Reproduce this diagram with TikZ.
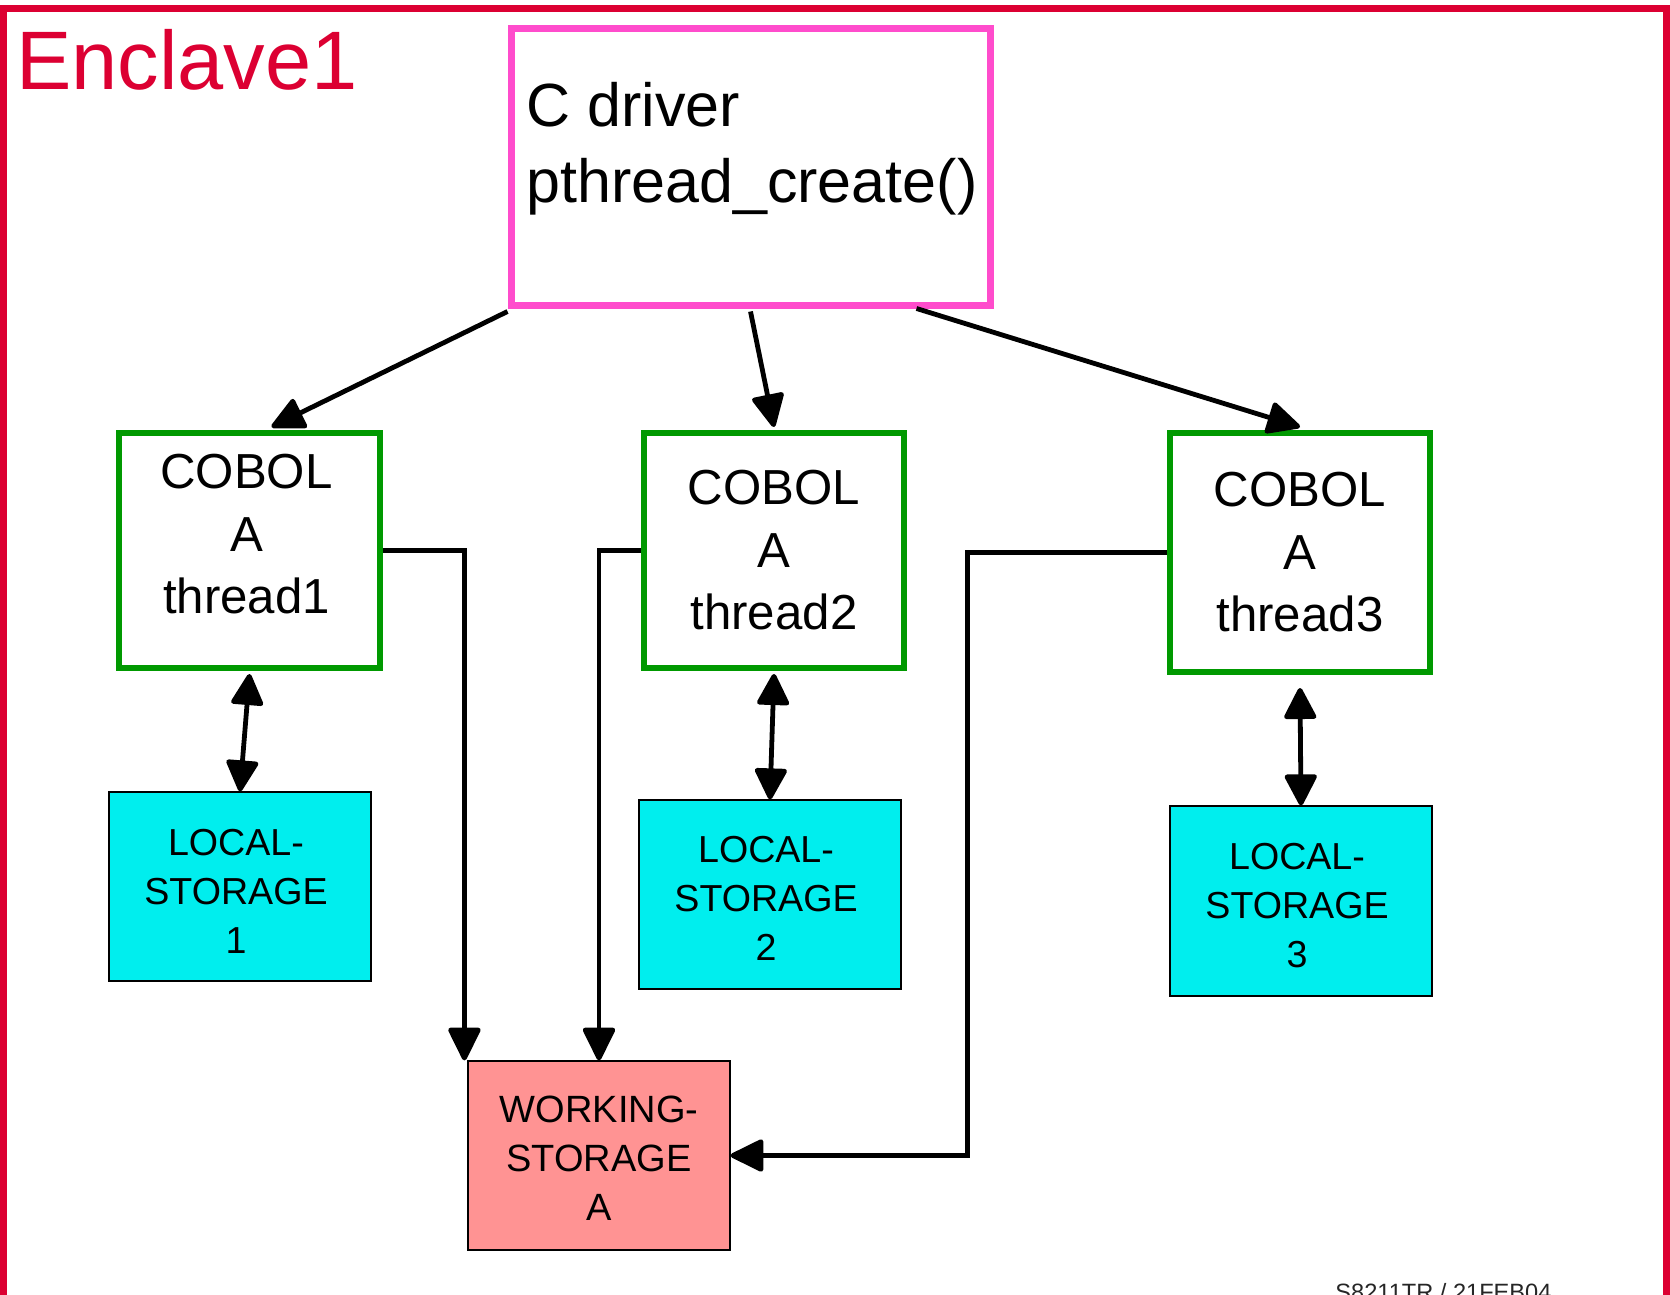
\documentclass[tikz,border=0pt]{standalone}
\usepackage{fontspec}
\setmainfont{Liberation Sans}
\usetikzlibrary{fit,calc,arrows.meta}
\definecolor{enclred}{RGB}{220,0,50}
\definecolor{drvpink}{RGB}{255,76,204}
\definecolor{thrgreen}{RGB}{0,153,0}
\definecolor{lscyan}{RGB}{0,238,238}
\definecolor{wssalmon}{RGB}{255,147,147}
\tikzset{
  frame/.style={draw=enclred, line width=3.5pt},
  drvbox/.style={draw=drvpink, line width=3.5pt, inner sep=0pt},
  thrbox/.style={draw=thrgreen, line width=3pt, inner sep=0pt},
  thrtext/.style={anchor=north, inner sep=0pt, align=center, font=\fontsize{24.6}{31.2}\selectfont},
  lsbox/.style={draw=black, fill=lscyan, line width=0.6pt, inner sep=0pt},
  lstext/.style={anchor=north, inner sep=0pt, align=center, font=\fontsize{18.8}{24.5}\selectfont},
  wsbox/.style={draw=black, fill=wssalmon, line width=0.6pt, inner sep=0pt},
  wstext/.style={anchor=north, inner sep=0pt, align=center, font=\fontsize{19}{24.5}\selectfont},
  arr/.style={line width=2.4pt, -{Triangle[width=17pt,length=18pt,round]}},
  darr/.style={line width=2.4pt, {Triangle[width=17pt,length=17pt,round]}-{Triangle[width=17pt,length=17pt,round]}},
}
\begin{document}
\begin{tikzpicture}[x=0.5pt,y=-0.5pt]
\useasboundingbox (0,0) rectangle (1670,1295);
\clip (0,0) rectangle (1670,1295);
% enclave frame
\draw[frame] (3.5,1400) -- (3.5,9) -- (1666,9) -- (1666,1400);
\node[anchor=base west, inner sep=0pt, text=enclred, font=\fontsize{41.5}{48}\selectfont] (encl) at (16,90) {Enclave1};
% driver
\node[drvbox, fit={(511,29) (990,305)}] (drv) {};
\node[anchor=north west, inner sep=0pt, align=left, font=\fontsize{30.5}{38}\selectfont] (drvt) at (526,81.5) {C driver\\pthread\_create()};
% COBOL threads
\node[thrbox, fit={(119,433) (380,668)}] (c1) {};
\node[thrbox, fit={(644,433) (904,668)}] (c2) {};
\node[thrbox, fit={(1170,433) (1430,672)}] (c3) {};
\node[thrtext] (c1t) at ($(c1.north)+(-3,24)$) {COBOL\\A\\thread1};
\node[thrtext] (c2t) at ($(c2.north)+(0,40)$) {COBOL\\A\\thread2};
\node[thrtext] (c3t) at ($(c3.north)+(0,42)$) {COBOL\\A\\thread3};
% local storage
\node[lsbox, fit={(109,792) (371,981)}] (l1) {};
\node[lsbox, fit={(639,800) (901,989)}] (l2) {};
\node[lsbox, fit={(1170,806) (1432,996)}] (l3) {};
\node[lstext] (l1t) at ($(l1.north)+(-4,37)$) {LOCAL-\\STORAGE\\1};
\node[lstext] (l2t) at ($(l2.north)+(-4,36)$) {LOCAL-\\STORAGE\\2};
\node[lstext] (l3t) at ($(l3.north)+(-4,37)$) {LOCAL-\\STORAGE\\3};
% working storage
\node[wsbox, fit={(468,1061) (730,1250)}] (ws) {};
\node[wstext] (wst) at ($(ws.north)+(0,35)$) {WORKING-\\STORAGE\\A};
% driver -> threads
\draw[arr] ($(drv.south west)+(0,3)$) -- ($(c1.north)+(22,-3)$);
\draw[arr] ($(drv.south)+(0,3)$) -- ($(c2.north)+(0,-3)$);
\draw[arr] ($(drv.south)+(166,0)$) -- ($(c3.north)+(0,-3)$);
% threads <-> local storage
\draw[darr] ($(c1.south)+(0,3)$) -- (l1.north);
\draw[darr] ($(c2.south)+(0,3)$) -- (l2.north);
\draw[darr] ($(c3.south)+(0,13)$) -- (l3.north);
% threads -> working storage
\draw[arr] (c1.east) -| ($(ws.north west)+(-3,0)$);
\draw[arr] (c2.west) -| (ws.north);
\draw[arr] (c3.west) -| ($(ws.east)+(237,0)$) -- (ws.east);
% footer
\node[anchor=base west, inner sep=0pt, text=black!85, font=\fontsize{11.8}{14}\selectfont] (foot) at (1335,1300) {S8211TR / 21FEB04};
\end{tikzpicture}
\end{document}
